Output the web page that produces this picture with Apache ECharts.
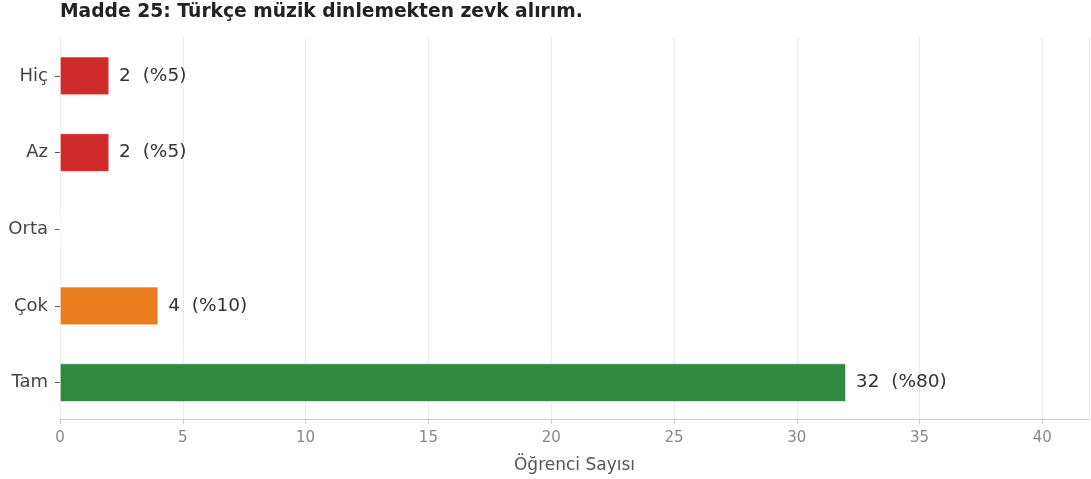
<!DOCTYPE html>
<html>
<head>
<meta charset="utf-8">
<script src="https://cdn.jsdelivr.net/npm/echarts@6/dist/echarts.min.js"></script>
<style>
  html, body { margin: 0; padding: 0; background: #fff; }
  #main { width: 1091px; height: 479px; }
</style>
</head>
<body>
<div id="main"></div>
<script>
const categories = ['Hiç', 'Az', 'Orta', 'Çok', 'Tam']
const counts = [2, 2, 0, 4, 32]
const percents = [5, 5, 0, 10, 80]
const barColors = ['#d02b2b', '#d02b2b', '#e0e0e0', '#ea7d1f', '#2e8a3f']
const xTicks = [0, 5, 10, 15, 20, 25, 30, 35, 40]

const font = '"DejaVu Sans", sans-serif'

let chart = echarts.init(document.getElementById('main'))

let option = {
  animation: false,
  textStyle: { fontFamily: font },
  title: {
    text: 'Madde 25: Türkçe müzik dinlemekten zevk alırım.',
    left: 60,
    top: 3,
    padding: 0,
    textStyle: { fontFamily: font, fontSize: 18.7, fontWeight: 'bold', color: '#222' }
  },
  grid: {
    left: 60,
    right: 2,
    top: 37.5,
    height: 384,
    containLabel: false
  },
  xAxis: {
    type: 'value',
    min: 0,
    max: 41.9,
    interval: 5,
    offset: -2,
    name: 'Öğrenci Sayısı',
    nameLocation: 'middle',
    nameGap: 38,
    nameTextStyle: { fontFamily: font, fontSize: 17, color: '#555' },
    axisLine: { show: true, lineStyle: { color: '#cccccc', width: 1.2 } },
    axisTick: { show: true, length: 5, lineStyle: { color: '#cccccc' } },
    axisLabel: {
      fontFamily: font, fontSize: 15, color: '#888', margin: 12,
      showMaxLabel: false,
      formatter: v => xTicks.indexOf(v) >= 0 ? String(v) : ''
    },
    splitLine: { show: true, lineStyle: { color: '#ebebeb', width: 1 } }
  },
  yAxis: {
    type: 'category',
    data: categories,
    inverse: true,
    axisLine: { show: false },
    axisTick: { show: true, alignWithLabel: true, length: 5, lineStyle: { color: '#555' } },
    axisLabel: { fontFamily: font, fontSize: 18, color: '#444', margin: 12 },
    splitLine: { show: false }
  },
  series: [
    {
      type: 'bar',
      barWidth: '50%',
      data: counts.map((v, i) => ({
        value: v,
        itemStyle: { color: barColors[i], borderColor: '#fff', borderWidth: 0.6 },
        label: { show: v > 0 }
      })),
      label: {
        position: 'right',
        distance: 10,
        fontFamily: font,
        fontSize: 18.5,
        color: '#333',
        formatter: p => `${counts[p.dataIndex]}  (%${percents[p.dataIndex]})`
      }
    }
  ]
}

chart.setOption(option)
</script>
</body>
</html>
